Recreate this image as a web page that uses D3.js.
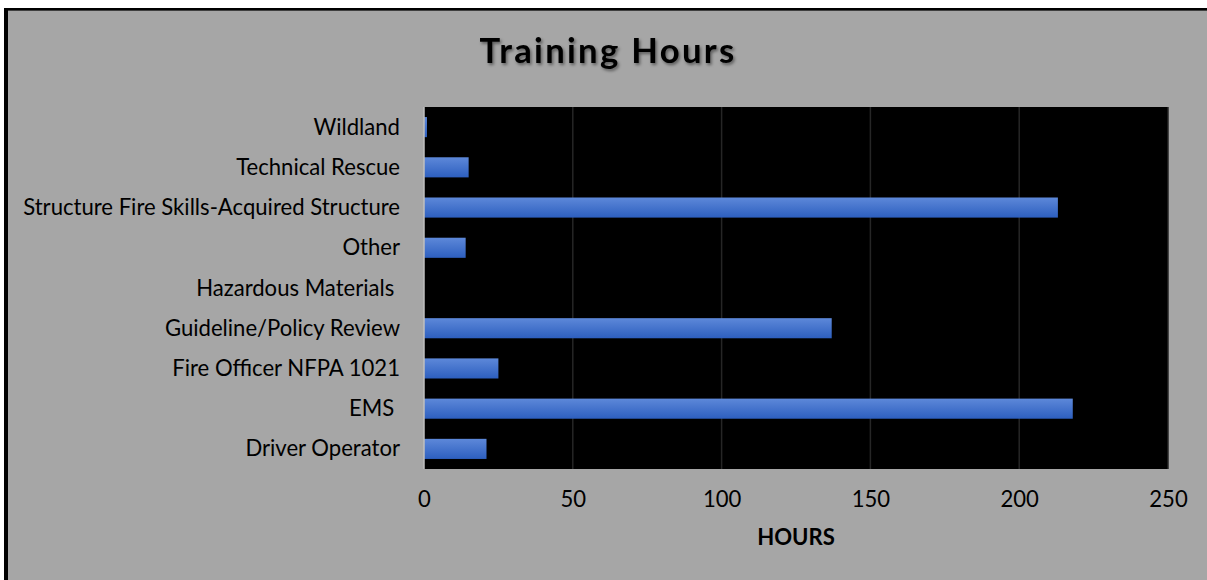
<!DOCTYPE html>
<html>
<head>
<meta charset="utf-8">
<script src="https://cdn.jsdelivr.net/npm/d3@7"></script>
<style>
  html, body { margin: 0; padding: 0; background: #ffffff; }
  svg { display: block; }
  text { white-space: pre; }
</style>
</head>
<body>
<svg id="chart" width="1207" height="580"></svg>
<script>
const categories = [
  "Wildland",
  "Technical Rescue",
  "Structure Fire Skills-Acquired Structure",
  "Other",
  "Hazardous Materials ",
  "Guideline/Policy Review",
  "Fire Officer NFPA 1021",
  "EMS ",
  "Driver Operator"
];
const hours = [1, 15, 213, 14, 0, 137, 25, 218, 21];
const xTicks = [0, 50, 100, 150, 200, 250];
const titleText = "Training Hours";
const axisTitle = "HOURS";

const FONT = "Lato, 'Open Sans', sans-serif";
const svg = d3.select("#chart");
const W = 1207, H = 580;

// frame
svg.append("rect").attr("x", 4).attr("y", 8).attr("width", W).attr("height", H).attr("fill", "#000");
svg.append("rect").attr("x", 8).attr("y", 10).attr("width", W).attr("height", H).attr("fill", "#3f3f3f");
svg.append("rect").attr("x", 8).attr("y", 11).attr("width", W).attr("height", H).attr("fill", "#a6a6a6");

const defs = svg.append("defs");
const grad = defs.append("linearGradient").attr("id", "barGrad")
  .attr("x1", 0).attr("y1", 0).attr("x2", 0).attr("y2", 1);
grad.append("stop").attr("offset", "0%").attr("stop-color", "#5d88d9");
grad.append("stop").attr("offset", "100%").attr("stop-color", "#2d5fbf");

const shadow = defs.append("filter").attr("id", "shadow")
  .attr("x", "-10%").attr("y", "-20%").attr("width", "120%").attr("height", "160%");
shadow.append("feDropShadow").attr("dx", 1.5).attr("dy", 2).attr("stdDeviation", 1.5)
  .attr("flood-color", "#000").attr("flood-opacity", 0.45);

const plot = { left: 424, right: 1168, top: 107, bottom: 469 };

const x = d3.scaleLinear().domain([0, 250]).range([plot.left, plot.right]);
const y = d3.scaleBand().domain(categories).range([plot.top, plot.bottom])
  .paddingInner(0.5).paddingOuter(0.25);

// plot background
svg.append("rect")
  .attr("x", plot.left).attr("y", plot.top)
  .attr("width", plot.right - plot.left).attr("height", plot.bottom - plot.top)
  .attr("fill", "#000");

// gridlines
svg.append("g").selectAll("line").data(xTicks.filter(t => t > 0)).join("line")
  .attr("x1", d => x(d)).attr("x2", d => x(d))
  .attr("y1", plot.top).attr("y2", plot.bottom)
  .attr("stroke", "#262626").attr("stroke-width", 1.5);

// bars
svg.append("g").selectAll("rect").data(categories).join("rect")
  .attr("x", x(0))
  .attr("y", d => y(d))
  .attr("width", (d, i) => x(hours[i]) - x(0))
  .attr("height", y.bandwidth())
  .attr("fill", "url(#barGrad)");

// left axis line
svg.append("line")
  .attr("x1", x(0)).attr("x2", x(0))
  .attr("y1", plot.top).attr("y2", plot.bottom)
  .attr("stroke", "#bfbfbf").attr("stroke-width", 1.5);

// fit label font size: longest label spans 23 -> 400
const probe = svg.append("text").attr("font-family", FONT).attr("font-size", 20)
  .text("Structure Fire Skills-Acquired Structure");
const w20 = probe.node().getComputedTextLength();
probe.remove();
const labelSize = Math.min(24, 20 * 377 / w20);

// category labels
const yAxis = d3.axisLeft(y).tickSize(0).tickPadding(24);
const yg = svg.append("g").attr("transform", `translate(${x(0)},0)`).call(yAxis);
yg.select(".domain").remove();
yg.selectAll("text")
  .attr("font-family", FONT).attr("font-size", labelSize)
  .attr("fill", "#000").attr("dy", "0.34em");

// x tick labels
const xAxis = d3.axisBottom(x).tickValues(xTicks).tickSize(0).tickPadding(0).tickFormat(d3.format("d"));
const xg = svg.append("g").attr("transform", `translate(0,${plot.bottom})`).call(xAxis);
xg.select(".domain").remove();
xg.selectAll("text")
  .attr("font-family", FONT).attr("font-size", labelSize)
  .attr("fill", "#000").attr("y", 38).attr("dy", 0);

// axis title
svg.append("text")
  .attr("x", (plot.left + plot.right) / 2).attr("y", 545)
  .attr("text-anchor", "middle")
  .attr("font-family", FONT).attr("font-weight", "bold").attr("font-size", labelSize)
  .attr("fill", "#000").text(axisTitle);

// title, fit to ~257px
const tp = svg.append("text").attr("font-family", FONT).attr("font-weight", "bold")
  .attr("font-size", 30).attr("letter-spacing", 2).text(titleText);
const tw = tp.node().getComputedTextLength();
tp.remove();
const titleSize = 30 * 257 / tw;
svg.append("text")
  .attr("x", 608).attr("y", 63)
  .attr("text-anchor", "middle")
  .attr("font-family", FONT).attr("font-weight", "bold")
  .attr("font-size", titleSize).attr("letter-spacing", 2 * titleSize / 30)
  .attr("fill", "#000").attr("filter", "url(#shadow)")
  .text(titleText);
</script>
</body>
</html>
